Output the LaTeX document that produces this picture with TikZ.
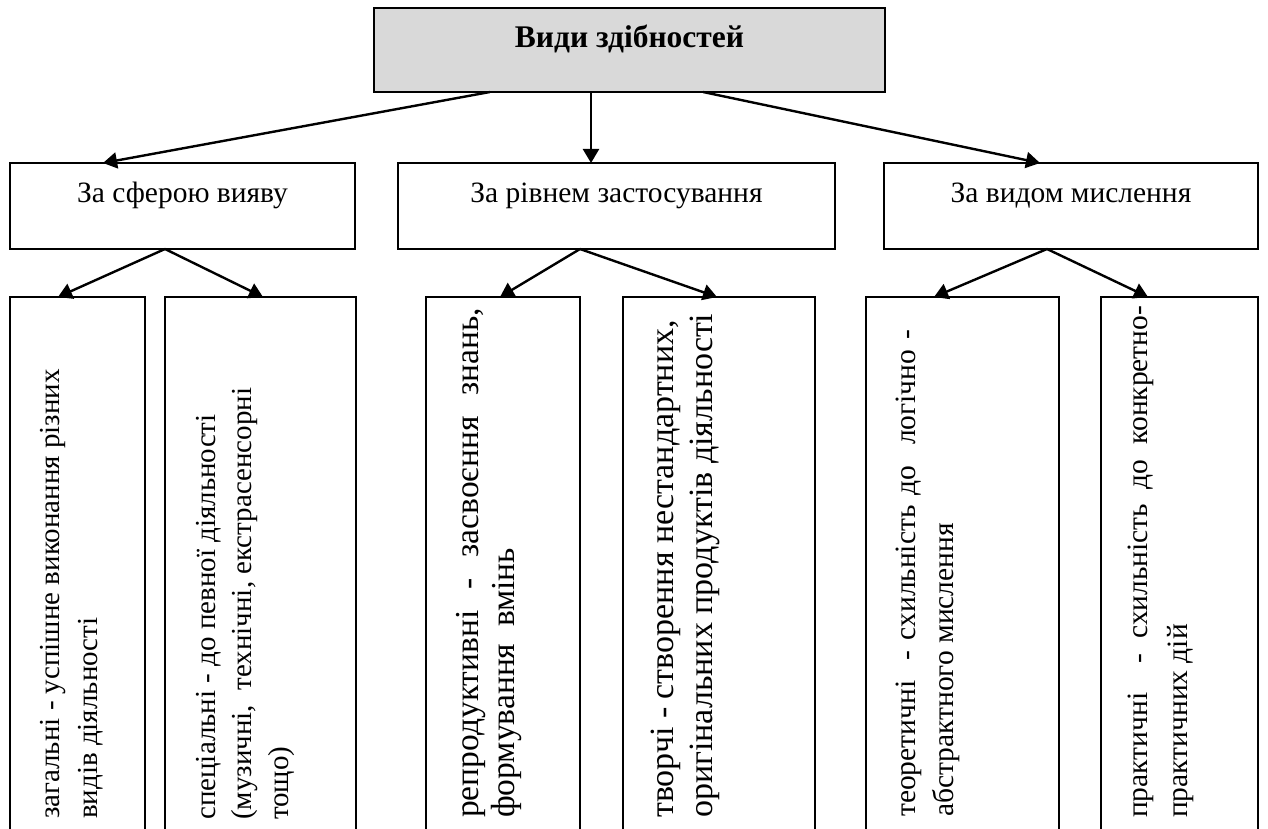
\documentclass[tikz,border=0pt]{standalone}
\usepackage{fontspec}
\setmainfont{Liberation Serif}
\usetikzlibrary{arrows.meta,calc}
\definecolor{titlegray}{HTML}{D9D9D9}
\begin{document}
\begin{tikzpicture}[x=1pt,y=-1pt,
  box/.style={draw, line width=1.8pt, inner sep=0pt, outer sep=0pt, anchor=north west},
  arr/.style={line width=2.4pt, -{Triangle[length=14pt,width=16pt]}},
  lbl/.style={font=\fontsize{29.5}{37}\selectfont, anchor=base, inner sep=0pt},
  vtxt/.style={rotate=90, anchor=north west, align=left, inner sep=0pt}]
\useasboundingbox (0,0) rectangle (1268,829);
\clip (0,0) rectangle (1268,829);
% top
\node[box, fill=titlegray, minimum width=511pt, minimum height=84pt] (T) at (374,8) {};
\node[font=\bfseries\fontsize{31.5}{38}\selectfont, anchor=base, inner sep=0pt] (title) at (629.5,48) {Види здібностей};
% middle row
\node[box, minimum width=345pt, minimum height=86pt] (M1) at (10,163) {};
\node[box, minimum width=437pt, minimum height=86pt] (M2) at (398,163) {};
\node[box, minimum width=374pt, minimum height=86pt] (M3) at (884,163) {};
\node[lbl] (l1) at (182.5,203) {За сферою вияву};
\node[lbl] (l2) at (616.5,203) {За рівнем застосування};
\node[lbl] (l3) at (1071,203) {За видом мислення};
% bottom row
\node[box, minimum width=135pt, minimum height=560pt] (Ba) at (10,297) {};
\node[box, minimum width=191pt, minimum height=560pt] (Bb) at (165,297) {};
\node[box, minimum width=154pt, minimum height=560pt] (Bc) at (426,297) {};
\node[box, minimum width=192pt, minimum height=560pt] (Bd) at (623,297) {};
\node[box, minimum width=193pt, minimum height=560pt] (Be) at (866,297) {};
\node[box, minimum width=157pt, minimum height=560pt] (Bf) at (1101,297) {};
\node[vtxt, font=\fontsize{29}{38}\selectfont] (ta) at (37.3,819)
  {\rule{0pt}{0.75em}загальні - успішне виконання різних\\видів діяльності};
\node[vtxt, font=\fontsize{29}{36.5}\selectfont] (tb) at (193.3,820)
  {\rule{0pt}{0.75em}спеціальні - до певної діяльності\\(музичні,\ \ технічні, екстрасенсорні\\тощо)};
\node[vtxt, font=\fontsize{33.5}{36}\selectfont] (tc) at (452.9,818)
  {\rule{0pt}{0.75em}\makebox[510pt][s]{репродуктивні - засвоєння знань,}\\формування\ \ вмінь};
\node[vtxt, font=\fontsize{34}{39}\selectfont] (td) at (647.5,818)
  {\rule{0pt}{0.75em}творчі - створення нестандартних,\\оригінальних продуктів діяльності};
\node[vtxt, font=\fontsize{29.5}{38}\selectfont] (te) at (892.9,817)
  {\rule{0pt}{0.75em}\makebox[487pt][s]{теоретичні\ \ - схильність до\ \ логічно -}\\абстрактного мислення};
\node[vtxt, font=\fontsize{29.5}{40}\selectfont] (tf) at (1124.9,818)
  {\rule{0pt}{0.75em}\makebox[512pt][s]{практичні\ \ - схильність до конкретно-}\\практичних дій};
% arrows
\draw[arr] ($(T.south west)+(116,0)$) -- ($(M1.north west)+(93,0)$);
\draw[arr] ($(T.south west)+(217,0)$) -- ($(M2.north west)+(193,0)$);
\draw[arr] ($(T.south west)+(329,0)$) -- ($(M3.north west)+(156,0)$);
\draw[arr] ($(M1.south west)+(155,0)$) -- ($(Ba.north west)+(48,0)$);
\draw[arr] ($(M1.south west)+(155,0)$) -- ($(Bb.north west)+(98,0)$);
\draw[arr] ($(M2.south west)+(182,0)$) -- ($(Bc.north west)+(74,0)$);
\draw[arr] ($(M2.south west)+(182,0)$) -- ($(Bd.north west)+(94,0)$);
\draw[arr] ($(M3.south west)+(163,0)$) -- ($(Be.north west)+(68,0)$);
\draw[arr] ($(M3.south west)+(163,0)$) -- ($(Bf.north west)+(47,0)$);
\end{tikzpicture}
\end{document}
